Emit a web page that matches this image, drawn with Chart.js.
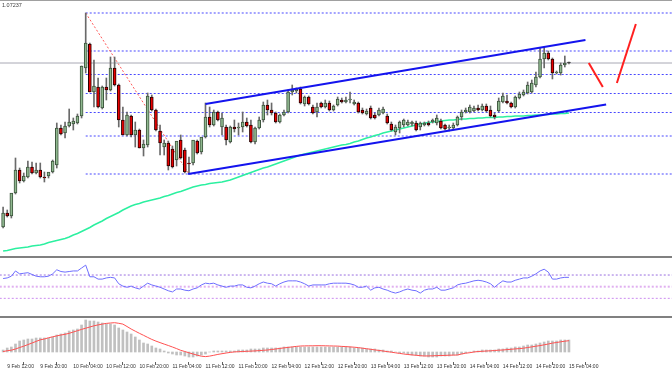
<!DOCTYPE html>
<html><head><meta charset="utf-8">
<script src="https://cdn.jsdelivr.net/npm/chart.js@4.4.1/dist/chart.umd.min.js"></script>
<style>
html,body{margin:0;padding:0;background:#fff;overflow:hidden;}
#wrap{position:relative;width:672px;height:372px;background:#fff;}
canvas{position:absolute;left:0;}
.sep{position:absolute;left:0;width:672px;background:#808080;}
#lbl{position:absolute;left:2px;top:2px;font:5.5px 'Liberation Sans',Arial,sans-serif;color:#404040;line-height:7px;}
</style></head><body>
<div id="wrap">
<canvas id="main" width="672" height="256" style="top:0"></canvas>
<canvas id="rsi" width="672" height="58" style="top:258px"></canvas>
<canvas id="macd" width="672" height="54" style="top:318px"></canvas>
<div class="sep" style="top:0;height:1px;background:#a0a0a0"></div>
<div class="sep" style="top:256px;height:2px"></div>
<div class="sep" style="top:316px;height:2px"></div>
<div id="lbl">1.07237</div>
</div>
<script>
// ---------- DATA (hourly bars, index 0 = 9 Feb 11:00) ----------
const opens = [1.07046,1.07074,1.07068,1.07114,1.07160,1.07138,1.07146,1.07166,1.07154,1.07160,
1.07146,1.07148,1.07156,1.07170,1.07244,1.07234,1.07248,1.07252,1.07254,1.07268,
1.07364,1.07412,1.07316,1.07326,1.07284,1.07326,1.07320,1.07364,1.07330,1.07260,
1.07230,1.07268,1.07230,1.07240,1.07204,1.07210,1.07306,1.07280,1.07238,1.07206,
1.07214,1.07202,1.07180,1.07220,1.07200,1.07174,1.07174,1.07218,1.07196,1.07226,
1.07266,1.07250,1.07276,1.07246,1.07246,1.07216,1.07246,1.07244,1.07246,1.07256,
1.07250,1.07216,1.07244,1.07260,1.07290,1.07280,1.07274,1.07256,1.07270,1.07276,
1.07316,1.07318,1.07322,1.07292,1.07306,1.07286,1.07276,1.07294,1.07286,1.07294,
1.07280,1.07290,1.07300,1.07296,1.07300,1.07292,1.07294,1.07280,1.07272,1.07284,
1.07270,1.07270,1.07274,1.07268,1.07252,1.07236,1.07244,1.07250,1.07250,1.07252,
1.07254,1.07246,1.07250,1.07254,1.07256,1.07254,1.07258,1.07250,1.07244,1.07244,
1.07250,1.07266,1.07276,1.07276,1.07278,1.07284,1.07280,1.07288,1.07280,1.07270,
1.07278,1.07296,1.07298,1.07294,1.07286,1.07304,1.07310,1.07314,1.07316,1.07330,
1.07346,1.07382,1.07394,1.07382,1.07354,1.07354,1.07370,1.07374];
const highs = [1.07086,1.07080,1.07076,1.07184,1.07164,1.07154,1.07178,1.07176,1.07174,1.07174,
1.07156,1.07152,1.07180,1.07254,1.07250,1.07256,1.07282,1.07264,1.07272,1.07368,
1.07474,1.07414,1.07380,1.07344,1.07328,1.07344,1.07386,1.07386,1.07332,1.07286,
1.07276,1.07270,1.07256,1.07242,1.07220,1.07314,1.07310,1.07282,1.07250,1.07220,
1.07218,1.07208,1.07200,1.07230,1.07204,1.07186,1.07200,1.07220,1.07210,1.07294,
1.07286,1.07280,1.07278,1.07274,1.07250,1.07248,1.07260,1.07254,1.07276,1.07264,
1.07260,1.07246,1.07266,1.07296,1.07300,1.07294,1.07276,1.07272,1.07280,1.07320,
1.07330,1.07324,1.07326,1.07308,1.07308,1.07290,1.07294,1.07296,1.07300,1.07298,
1.07290,1.07306,1.07304,1.07306,1.07316,1.07300,1.07296,1.07284,1.07282,1.07288,
1.07274,1.07284,1.07286,1.07272,1.07256,1.07250,1.07258,1.07262,1.07260,1.07258,
1.07258,1.07256,1.07256,1.07258,1.07262,1.07270,1.07262,1.07252,1.07250,1.07254,
1.07268,1.07280,1.07284,1.07290,1.07288,1.07290,1.07292,1.07292,1.07288,1.07274,
1.07304,1.07314,1.07310,1.07296,1.07308,1.07316,1.07320,1.07336,1.07340,1.07356,
1.07404,1.07406,1.07398,1.07384,1.07358,1.07374,1.07388,1.07376];
const lows = [1.07044,1.07066,1.07064,1.07112,1.07134,1.07136,1.07144,1.07152,1.07152,1.07144,
1.07136,1.07144,1.07154,1.07164,1.07230,1.07224,1.07246,1.07240,1.07252,1.07264,
1.07354,1.07316,1.07286,1.07284,1.07282,1.07300,1.07318,1.07328,1.07246,1.07230,
1.07228,1.07226,1.07206,1.07204,1.07188,1.07206,1.07278,1.07238,1.07190,1.07190,
1.07160,1.07164,1.07168,1.07182,1.07154,1.07152,1.07170,1.07192,1.07192,1.07224,
1.07246,1.07248,1.07258,1.07230,1.07210,1.07214,1.07236,1.07230,1.07236,1.07246,
1.07214,1.07212,1.07242,1.07256,1.07270,1.07270,1.07254,1.07254,1.07268,1.07274,
1.07310,1.07314,1.07292,1.07288,1.07290,1.07272,1.07266,1.07284,1.07284,1.07278,
1.07278,1.07288,1.07294,1.07294,1.07294,1.07290,1.07274,1.07272,1.07270,1.07262,
1.07262,1.07268,1.07272,1.07252,1.07238,1.07230,1.07234,1.07246,1.07248,1.07248,
1.07238,1.07240,1.07248,1.07248,1.07254,1.07250,1.07242,1.07240,1.07238,1.07242,
1.07248,1.07260,1.07274,1.07274,1.07276,1.07278,1.07278,1.07276,1.07266,1.07262,
1.07276,1.07294,1.07292,1.07284,1.07284,1.07302,1.07308,1.07312,1.07314,1.07326,
1.07344,1.07364,1.07380,1.07342,1.07352,1.07350,1.07366,1.07372];
const closes = [1.07074,1.07068,1.07114,1.07160,1.07138,1.07148,1.07166,1.07154,1.07160,1.07146,
1.07144,1.07156,1.07178,1.07244,1.07232,1.07248,1.07256,1.07258,1.07268,1.07368,
1.07414,1.07316,1.07328,1.07286,1.07326,1.07320,1.07364,1.07330,1.07260,1.07230,
1.07270,1.07230,1.07240,1.07204,1.07212,1.07308,1.07280,1.07240,1.07214,1.07214,
1.07168,1.07166,1.07218,1.07184,1.07156,1.07172,1.07220,1.07194,1.07226,1.07266,
1.07250,1.07276,1.07260,1.07264,1.07220,1.07246,1.07242,1.07246,1.07256,1.07248,
1.07216,1.07244,1.07260,1.07290,1.07280,1.07274,1.07256,1.07270,1.07276,1.07316,
1.07320,1.07322,1.07294,1.07306,1.07292,1.07274,1.07286,1.07286,1.07294,1.07280,
1.07288,1.07302,1.07296,1.07300,1.07302,1.07296,1.07276,1.07274,1.07278,1.07264,
1.07264,1.07280,1.07282,1.07254,1.07240,1.07246,1.07256,1.07260,1.07256,1.07256,
1.07240,1.07254,1.07254,1.07250,1.07260,1.07264,1.07244,1.07242,1.07246,1.07250,
1.07266,1.07276,1.07280,1.07286,1.07284,1.07280,1.07288,1.07278,1.07268,1.07266,
1.07298,1.07308,1.07294,1.07286,1.07306,1.07312,1.07316,1.07330,1.07334,1.07346,
1.07382,1.07394,1.07382,1.07354,1.07356,1.07370,1.07374,1.07374];
// moving average (green line)
const maLine = [1.06998,1.06999,1.07001,1.07003,1.07004,1.07005,1.07006,1.07008,1.07009,1.07010,
1.07012,1.07015,1.07017,1.07019,1.07021,1.07023,1.07026,1.07030,1.07033,1.07037,
1.07041,1.07045,1.07050,1.07054,1.07058,1.07063,1.07067,1.07071,1.07075,1.07080,
1.07084,1.07088,1.07091,1.07093,1.07096,1.07098,1.07100,1.07102,1.07104,1.07107,
1.07109,1.07112,1.07115,1.07117,1.07120,1.07123,1.07126,1.07128,1.07130,1.07131,
1.07133,1.07134,1.07135,1.07136,1.07138,1.07140,1.07143,1.07146,1.07149,1.07152,
1.07155,1.07158,1.07161,1.07164,1.07166,1.07169,1.07172,1.07175,1.07178,1.07181,
1.07184,1.07187,1.07190,1.07192,1.07194,1.07196,1.07198,1.07200,1.07202,1.07204,
1.07206,1.07208,1.07210,1.07211,1.07213,1.07216,1.07218,1.07221,1.07224,1.07226,
1.07229,1.07231,1.07234,1.07236,1.07238,1.07240,1.07242,1.07244,1.07246,1.07248,
1.07250,1.07252,1.07254,1.07255,1.07256,1.07257,1.07258,1.07259,1.07260,1.07260,
1.07261,1.07262,1.07262,1.07263,1.07263,1.07264,1.07264,1.07265,1.07265,1.07265,
1.07266,1.07266,1.07267,1.07267,1.07268,1.07268,1.07268,1.07269,1.07269,1.07270,
1.07270,1.07271,1.07271,1.07272,1.07272,1.07273,1.07273,1.07274];
// RSI
const rsi = [64,65,68,77,72,73,74,71,68,67, 67,68,72,79,76,75,76,77,77,82,
87,67,67,63,63,65,66,65,55,51, 49,51,48,46,51,56,53,51,49,46,
43,41,46,46,44,43,46,48,53,56, 55,56,53,51,49,51,51,53,53,49,
48,51,55,58,56,55,51,55,58,60, 60,60,58,55,51,53,53,53,53,55,
56,56,56,56,55,53,49,49,51,44, 48,49,46,44,41,39,41,44,46,44,
43,39,44,46,46,49,44,44,46,48, 53,55,56,58,60,61,60,58,55,49,
55,60,58,58,61,63,65,65,68,72, 77,80,75,63,63,65,66,66];
const rsiLevels = [70, 50, 30];
// MACD (in points, 1 point = 0.00001)
const POINT = 0.00001;
const macdMain = [2,4,5,8,11,12,13,13,14,14, 14,14,15,17,18,19,21,22,23,27,
32,31,31,30,29,28,28,27,24,22, 20,18,15,12,9,8,6,4,3,1,
-1,-2,-3,-3,-4,-5,-5,-4,-3,-2, 0,1,1,1,1,1,1,2,2,2,
3,3,3,4,4,4,4,4,5,5, 5,5,5,5,5,5,5,5,5,5,
5,5,5,5,5,4,4,4,3,3, 3,2,2,1,1,0,-1,-1,-2,-3,
-3,-4,-4,-5,-5,-5,-4,-4,-4,-3, -3,-2,-1,0,1,1,2,2,2,2,
3,3,4,4,5,5,6,7,7,8, 9,10,11,11,11,12,12,12];
const macdSignal = [0.4,1.3,1.8,3,4.5,5.8,7.4,9,10.6,12.2, 13,14.2,15.2,16.1,17,17.7,18.7,20,21.3,22.6,
23.8,25,26.2,27.1,27.9,28.6,29,29.3,28.7,27.9, 25.5,23,20.8,18.7,16.7,14.6,12.6,10.9,9.4,7.9,
6.5,5,3.4,1.7,0.5,-0.8,-2,-3.2,-4.2,-4.6, -4.1,-3.3,-2.4,-1.7,-1,-0.4,0.1,0.3,0.5,0.7,
0.9,1.1,1.4,1.7,2,2.5,3,3.6,4.1,4.6, 5.1,5.6,6,6.1,6.2,6.2,6.3,6.3,6.2,6.1,
6,5.9,5.6,5.4,5.1,4.8,4.4,3.8,3.3,2.7, 2.1,1.6,1,0.4,-0.2,-0.8,-1.4,-2,-2.5,-2.9,
-3.3,-3.7,-4,-3.9,-3.8,-3.6,-3.5,-3.4,-3.2,-3.1, -3,-2,-1.2,-0.7,0,0.5,0.7,1,1.2,1.5,
1.8,2,2.4,2.7,3.1,3.4,3.8,4.5,5.1,5.8, 6.4,7.2,8,8.9,9.5,10.2,10.8,11.3];
// time axis
const tickBars = [1,9,17,25,33,41,49,57,65,73,81,89,97,105,113,121,129,137];
const tickLabels = ["9 Feb 12:00","9 Feb 20:00","10 Feb 04:00","10 Feb 12:00","10 Feb 20:00","11 Feb 04:00",
"11 Feb 12:00","11 Feb 20:00","12 Feb 04:00","12 Feb 12:00","12 Feb 20:00","13 Feb 04:00",
"13 Feb 12:00","13 Feb 20:00","14 Feb 04:00","14 Feb 12:00","14 Feb 20:00","15 Feb 04:00"];
// Fibonacci retracement between bar 20 high and bar 45 low
const fibFromBar = 20, fibToBar = 45;
const fibRatios = [0, 0.236, 0.382, 0.5, 0.618, 0.764, 1];
// drawn trend channel and arrow strokes: [bar, price]
const channelUpper = [[49, 1.07292], [141, 1.07420]];
const channelLower = [[44.8, 1.07152], [146, 1.07291]];
const arrowDown = [[141.8, 1.07374], [145.2, 1.07326]];
const arrowUp = [[148.6, 1.07334], [153.2, 1.07452]];

// ---------- CHARTS ----------
Chart.defaults.font.family = "'Liberation Sans', Arial, sans-serif";
const X_MIN = -0.75, X_MAX = 161.95;
const common = {
  responsive:false, animation:false, devicePixelRatio:1,
  layout:{padding:0},
  plugins:{legend:{display:false}, tooltip:{enabled:false}}
};
const hidX = {type:'linear', min:X_MIN, max:X_MAX, display:false, offset:false};
const pts = a => a.map(p => ({x:p[0], y:p[1]}));
const hline = v => [{x:X_MIN-2, y:v}, {x:X_MAX+2, y:v}];
const lineDs = (data, color, width, dash, order) => ({type:'line', data, borderColor:color, borderWidth:width,
  borderDash:dash||[], pointRadius:0, fill:false, tension:0, order});

const fibHigh = highs[fibFromBar], fibLow = lows[fibToBar];
const fibSets = fibRatios.map(r => lineDs([{x:fibFromBar, y:fibHigh - r*(fibHigh-fibLow)}, {x:X_MAX+2, y:fibHigh - r*(fibHigh-fibLow)}], '#4848ff', 1, [2,2], 10));

const UP = '#8fb88f', DN = '#e80000';
const bodyFill = closes.map((c,i) => c > opens[i] ? UP : (c < opens[i] ? DN : '#404040'));
const bodyEdge = closes.map((c,i) => c > opens[i] ? '#3d553d' : (c < opens[i] ? '#2a0000' : '#404040'));

new Chart(document.getElementById('main'), {
  type:'bar',
  data:{datasets:[
    ...fibSets,
    lineDs(hline(closes[closes.length-1]), '#a8a8b4', 1, [], 9),
    lineDs([{x:fibFromBar, y:fibHigh}, {x:fibToBar, y:fibLow}], '#ff5a5a', 1, [2,2], 8),
    lineDs(maLine.map((v,i)=>({x:i,y:v})), '#2cf0a0', 1.5, [], 6),
    {type:'bar', data:lows.map((l,i)=>({x:i, y:[l, highs[i]]})), backgroundColor:'#6a6a6a',
      barThickness:1, grouped:false, order:5},
    {type:'bar', data:opens.map((o,i)=>({x:i, y:[o, closes[i]]})), backgroundColor:bodyFill,
      borderColor:bodyEdge, borderWidth:1, borderSkipped:false, barThickness:3, minBarLength:1,
      grouped:false, order:4},
    lineDs(pts(channelUpper), '#1414ee', 2, [], 2),
    lineDs(pts(channelLower), '#1414ee', 2, [], 2),
    lineDs(pts(arrowDown), '#ff2020', 2, [], 1),
    lineDs(pts(arrowUp), '#ff2020', 2, [], 1)
  ]},
  options:{...common,
    scales:{x:hidX, y:{type:'linear', min:1.06988, max:1.07500, display:false}}}
});

const rsiColors = ['#9a6ee0', '#e0b0f0', '#cc8cf0'];
const rsiWidths = [1, 2, 1];
new Chart(document.getElementById('rsi'), {
  type:'line',
  data:{datasets:[
    ...rsiLevels.map((v,k) => lineDs(hline(v), rsiColors[k], rsiWidths[k], [2,2], 5)),
    lineDs(rsi.map((v,i)=>({x:i,y:v})), '#6e6eff', 1, [], 1)
  ]},
  options:{...common,
    scales:{x:hidX, y:{type:'linear', min:-0.3, max:99.2, display:false}}}
});

new Chart(document.getElementById('macd'), {
  type:'bar',
  data:{datasets:[
    {type:'bar', data:macdMain.map((v,i)=>({x:i, y:v*POINT})), backgroundColor:'#c0c0c0',
      barThickness:2, grouped:false, order:2},
    lineDs(macdSignal.map((v,i)=>({x:i, y:v*POINT})), '#ff5050', 1, [], 1)
  ]},
  options:{...common,
    scales:{
      x:{type:'linear', min:X_MIN, max:X_MAX, offset:false, display:true,
        afterBuildTicks:s => { s.ticks = tickBars.map(v => ({value:v})); },
        afterFit:s => { s.height = 10; },
        ticks:{autoSkip:false, maxRotation:0, minRotation:0, align:'start', padding:-1,
          color:'#303030', font:{size:5},
          callback:v => { const k = tickBars.indexOf(v); return k >= 0 ? tickLabels[k] : ''; }},
        grid:{display:true, drawOnChartArea:false, drawTicks:true, tickLength:3, color:'#606060'},
        border:{display:false}
      },
      y:{type:'linear', min:-0.00010, max:0.00034, display:false}
    }}
});
</script>
</body></html>
